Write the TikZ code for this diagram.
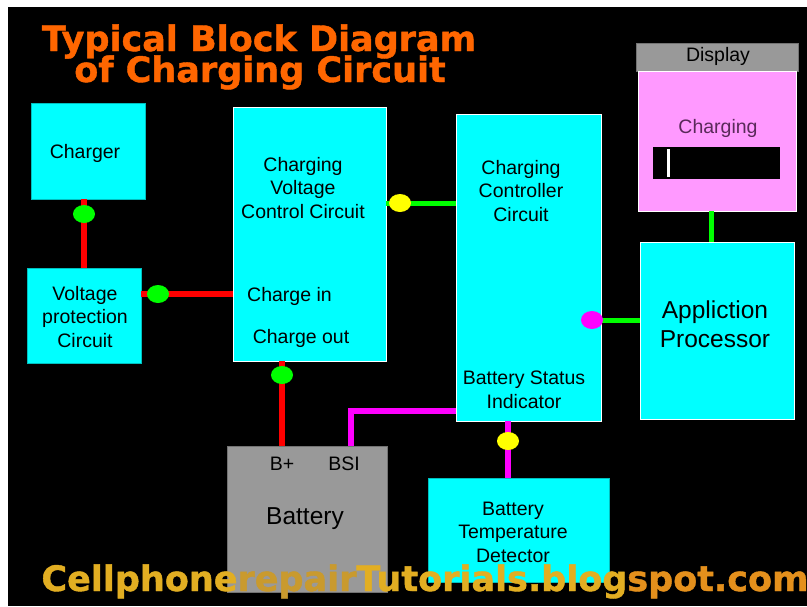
\documentclass[tikz,border=0pt]{standalone}
\usepackage{fontspec}
\setmainfont{Liberation Sans}
\newfontfamily\headfont{DejaVu Sans}[BoldFeatures={FakeBold=1.2}]
\usepackage{tikz}
\usetikzlibrary{positioning, arrows.meta, shapes.geometric}
\definecolor{boxcyan}{HTML}{00FFFF}
\definecolor{wirered}{HTML}{FF0000}
\definecolor{wiregreen}{HTML}{00FF00}
\definecolor{wirepink}{HTML}{FF00FF}
\definecolor{dotyellow}{HTML}{FFFF00}
\definecolor{battgray}{HTML}{999999}
\definecolor{lcdpink}{HTML}{FF99FF}
\definecolor{lcdtext}{HTML}{5A2A5A}
\definecolor{titleorange}{HTML}{FF6600}
\definecolor{footgold}{HTML}{E2AE22}
\definecolor{footdark}{HTML}{C99A2E}
\definecolor{footorange}{HTML}{E4901C}
\newcommand{\boxfont}{\fontsize{19.5}{23.5}\selectfont}
\newcommand{\bigboxfont}{\fontsize{24.5}{29}\selectfont}

\begin{document}
\begin{tikzpicture}[x=1pt, y=-1pt,
  blk/.style={fill=boxcyan, draw=boxcyan!75!black, line width=0.8pt, inner sep=0pt},
  blkw/.style={blk, draw=white},
  graybox/.style={fill=battgray, draw=battgray!75!black, line width=0.8pt, inner sep=0pt},
  txt/.style={font=\boxfont, align=center, inner sep=0pt, text=black},
  bigtxt/.style={txt, font=\bigboxfont},
  wire/.style={line width=6pt},
  dot/.style={ellipse, inner sep=0pt, minimum width=22pt, minimum height=18pt},
  titletxt/.style={font=\headfont\bfseries\fontsize{35}{35}\selectfont, text=titleorange, inner sep=0pt},
  foottxt/.style={font=\headfont\bfseries\fontsize{35}{35}\selectfont, text=footgold, inner sep=0pt}]
  \useasboundingbox (0,0) rectangle (807,606);
  \fill[white] (0,0) rectangle (807,606);
  \fill[black] (8,7) rectangle (807,606);

  % title
  \node[titletxt, anchor=base] (title1) at (259,51) {Typical Block Diagram};
  \node[titletxt, anchor=base] (title2) at (260,82) {of Charging Circuit};

  % blocks
  \node[blk, minimum width=114pt, minimum height=96pt] (charger) at (88,151) {};
  \node[blk, minimum width=114pt, minimum height=95pt] (vprot) at (84,315.5) {};
  \node[blkw, minimum width=153pt, minimum height=254pt] (cvcc) at (309.5,234) {};
  \node[blkw, minimum width=145pt, minimum height=307pt] (ccc) at (528.5,267.5) {};
  \node[blkw, minimum width=154pt, minimum height=177pt] (ap) at (717,330.5) {};
  \node[graybox, minimum width=162pt, minimum height=28pt] (dhead) at (717,57) {};
  \node[fill=lcdpink, draw=white, line width=0.8pt, minimum width=158pt, minimum height=140pt, inner sep=0pt] (disp) at (717,141) {};
  \node[fill=black, minimum width=127pt, minimum height=32pt, inner sep=0pt] (lcdbar) at (716.5,163) {};
  \node[fill=white, minimum width=3pt, minimum height=28pt, inner sep=0pt] (lcdtick) at (668,163) {};
  \node[graybox, minimum width=160pt, minimum height=146pt] (batt) at (307,519) {};
  \node[blk, minimum width=181pt, minimum height=104pt] (btd) at (518.5,530) {};

  % texts
  \node[txt] (tcharger) at (85,153) {Charger};
  \node[txt] (tvprot) at (85,317) {Voltage\\protection\\Circuit};
  \node[txt] (tcvcc) at (303,188) {Charging\\Voltage\\Control Circuit};
  \node[txt, anchor=west] (tchin) at (247,296) {Charge in};
  \node[txt] (tchout) at (301,338) {Charge out};
  \node[txt] (tccc) at (521,191) {Charging\\Controller\\Circuit};
  \node[txt] (tbsi) at (524,390) {Battery Status\\Indicator};
  \node[bigtxt] (tap) at (715,324) {Appliction\\Processor};
  \node[txt] (tdisp) at (718,56) {Display};
  \node[txt, text=lcdtext] (tcharging) at (718,128) {Charging};
  \node[txt] (tbplus) at (282,464) {B+};
  \node[txt] (tbsipin) at (344,464) {BSI};
  \node[bigtxt] (tbatt) at (305,519) {Battery};
  \node[txt] (tbtd) at (513,532) {Battery\\Temperature\\Detector};

  % connection points
  \coordinate (pchg) at (84,214);
  \coordinate (pvp) at (158,294);
  \coordinate (pout) at (282,375);
  \coordinate (pctl) at (400,203);
  \coordinate (pap) at (592,320);
  \coordinate (ptemp) at (508,441);
  \coordinate (plcd) at (711,226);
  \coordinate (pbsi) at (351,411);

  % wires
  \draw[wire, wirered] (pchg |- charger.south) -- (pchg |- vprot.north);
  \draw[wire, wirered] (vprot.east |- pvp) -- (cvcc.west |- pvp);
  \draw[wire, wirered] (pout |- cvcc.south) -- (pout |- batt.north);
  \draw[wire, wiregreen, line width=5pt] (cvcc.east |- pctl) -- (ccc.west |- pctl);
  \draw[wire, wiregreen, line width=5pt] (ccc.east |- pap) -- (ap.west |- pap);
  \draw[wire, wiregreen, line width=5pt] (plcd |- disp.south) -- (plcd |- ap.north);
  \draw[wire, wirepink] (ccc.west |- pbsi) -- (pbsi) -- (pbsi |- batt.north);
  \draw[wire, wirepink] (ptemp |- ccc.south) -- (ptemp |- btd.north);

  \foreach \p/\c in {pchg/wiregreen, pvp/wiregreen, pout/wiregreen, pctl/dotyellow, pap/wirepink, ptemp/dotyellow}{
    \node[dot, fill=\c] (dot-\p) at (\p) {};
  }

  % footer
  \node[foottxt, anchor=base] (footer) at (425,591) {Cellphone\textcolor{footdark}{repair}Tutorials.blog\textcolor{footorange}{spot.com}};
\end{tikzpicture}
\end{document}
